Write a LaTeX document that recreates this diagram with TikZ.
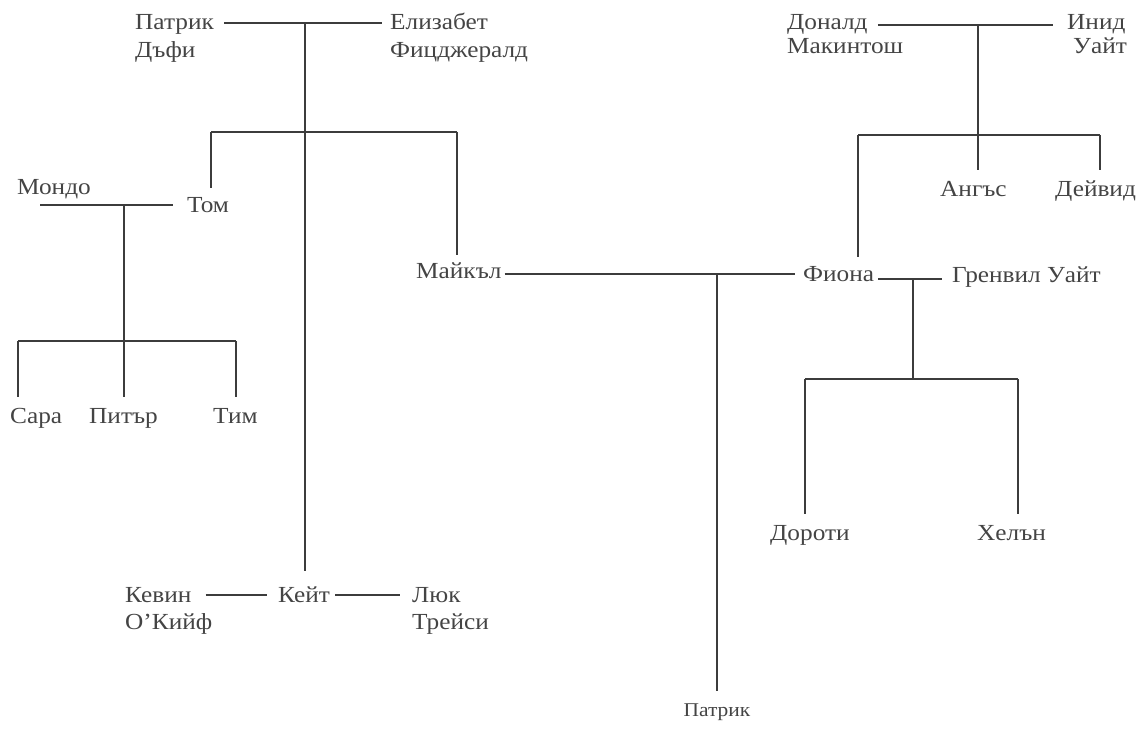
\documentclass[tikz,border=0pt]{standalone}
\usepackage{fontspec}
\newfontfamily\tf{Liberation Serif}[FakeStretch=1.1]
\definecolor{txt}{HTML}{444444}
\definecolor{ln}{HTML}{3C3C3C}
\tikzset{
  pers/.style={font=\tf\fontsize{23}{27}\selectfont, text=txt, inner sep=0pt, anchor=west, text height=15.2pt, text depth=0pt},
  small/.style={font=\tf\fontsize{19.5}{22}\selectfont, text=txt, inner sep=0pt, anchor=center, text height=12.9pt, text depth=0pt},
  link/.style={draw=ln, line width=1.3pt}
}
\begin{document}
\begin{tikzpicture}[x=1pt,y=-1pt]
\useasboundingbox (0,0) rectangle (1145,730);
% ---------- people ----------
\node[pers] (patA) at (135,21.5) {Патрик};
\node[pers] (patB) at (135,49.5) {Дъфи};
\node[pers] (eliA) at (390,21.5) {Елизабет};
\node[pers] (eliB) at (390,49.5) {Фицджералд};
\node[pers] (mondo) at (17,187) {Мондо};
\node[pers] (tom) at (187,205) {Том};
\node[pers] (sara) at (10,416) {Сара};
\node[pers] (peter) at (89,416) {Питър};
\node[pers] (tim) at (213,416) {Тим};
\node[pers] (mike) at (416,270.5) {Майкъл};
\node[pers] (kevA) at (125,595) {Кевин};
\node[pers] (kevB) at (125,622) {О’Кийф};
\node[pers] (kate) at (278,595) {Кейт};
\node[pers] (lukA) at (412,595) {Люк};
\node[pers] (lukB) at (412,622) {Трейси};
\node[small] (patC) at (717,710) {Патрик};
\node[pers] (donA) at (787,21.5) {Доналд};
\node[pers] (donB) at (787,45.5) {Макинтош};
\node[pers] (enA) at (1067,21.5) {Инид};
\node[pers] (enB) at (1073,45.5) {Уайт};
\node[pers] (angus) at (940,188.5) {Ангъс};
\node[pers] (david) at (1055,188.5) {Дейвид};
\node[pers] (fiona) at (803,274) {Фиона};
\node[pers] (gren) at (952,275) {Гренвил Уайт};
\node[pers] (dorothy) at (770,533) {Дороти};
\node[pers] (helen) at (977,533) {Хелън};
% ---------- junctions ----------
\coordinate (j1) at (305,23);
\coordinate (b1l) at (211,132);
\coordinate (b1m) at (305,132);
\coordinate (b1r) at (457,132);
\coordinate (j2) at (124,205);
\coordinate (m1) at (40,205);
\coordinate (b2l) at (18,341);
\coordinate (b2m) at (124,341);
\coordinate (b2r) at (236,341);
\coordinate (j3) at (717,274);
\coordinate (j4) at (978,25);
\coordinate (b3l) at (858,135);
\coordinate (b3m) at (978,135);
\coordinate (b3r) at (1100,135);
\coordinate (j5) at (913,279);
\coordinate (b4l) at (805,379);
\coordinate (b4m) at (913,379);
\coordinate (b4r) at (1018,379);
% ---------- Duffy / Fitzgerald ----------
\draw[link] ([xshift=10pt]patA.east |- j1) -- ([xshift=-8pt]eliA.west |- j1);
\draw[link] (j1) -- (b1m);
\draw[link] (b1l) -- (b1r);
\draw[link] (b1l) -- ([yshift=9pt]b1l |- tom.north);
\draw[link] (b1r) -- ([yshift=8pt]b1r |- mike.north);
\draw[link] (b1m) -- ([yshift=16pt]b1m |- kate.north);
% ---------- Mondo / Tom ----------
\draw[link] (m1) -- ([xshift=-14pt]tom.west |- m1);
\draw[link] (j2) -- (b2m);
\draw[link] (b2l) -- (b2r);
\draw[link] (b2l) -- ([yshift=11pt]b2l |- sara.north);
\draw[link] (b2m) -- ([yshift=11pt]b2m |- peter.north);
\draw[link] (b2r) -- ([yshift=11pt]b2r |- tim.north);
% ---------- Kate ----------
\draw[link] ([xshift=14pt]kevA.east) -- ([xshift=-11pt]kate.west);
\draw[link] ([xshift=5pt]kate.east) -- ([xshift=-12pt]lukA.west);
% ---------- Michael / Fiona ----------
\draw[link] ([xshift=3pt]mike.east |- j3) -- ([xshift=-8pt]fiona.west |- j3);
\draw[link] (j3) -- ([yshift=12pt]patC.north);
% ---------- Mackintosh / White ----------
\draw[link] ([xshift=10pt]donA.east |- j4) -- ([xshift=-14pt]enA.west |- j4);
\draw[link] (j4) -- (b3m);
\draw[link] (b3l) -- (b3r);
\draw[link] (b3l) -- ([yshift=9pt]b3l |- fiona.north);
\draw[link] (b3m) -- ([yshift=11pt]b3m |- angus.north);
\draw[link] (b3r) -- ([yshift=11pt]b3r |- david.north);
% ---------- Fiona / Grenville ----------
\draw[link] ([xshift=4pt]fiona.east |- j5) -- ([xshift=-10pt]gren.west |- j5);
\draw[link] (j5) -- (b4m);
\draw[link] (b4l) -- (b4r);
\draw[link] (b4l) -- ([yshift=11pt]b4l |- dorothy.north);
\draw[link] (b4r) -- ([yshift=11pt]b4r |- helen.north);
\end{tikzpicture}
\end{document}
